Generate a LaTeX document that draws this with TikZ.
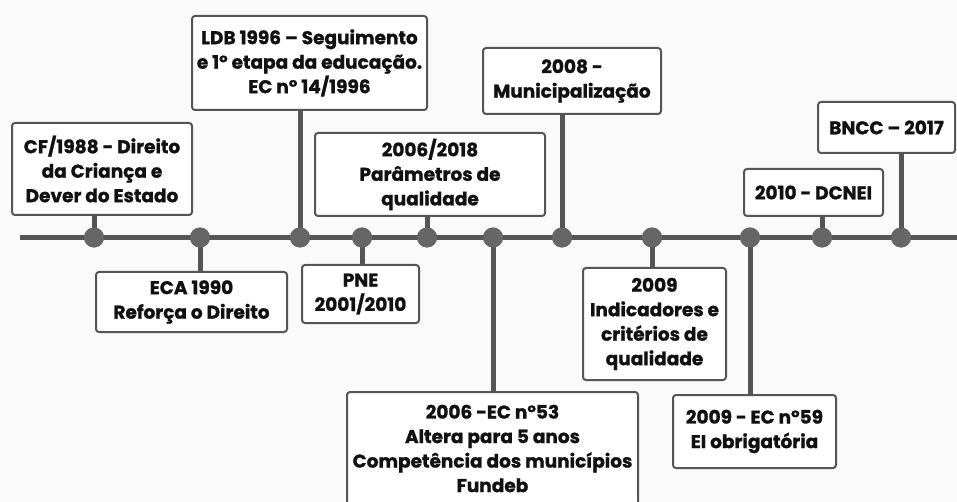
\documentclass[tikz,border=0pt]{standalone}
\usepackage{fontspec}
\setmainfont{Poppins}[BoldFeatures={FakeBold=1.2}]
\definecolor{bg}{HTML}{FAFAFA}
\definecolor{ln}{HTML}{555555}
\definecolor{dt}{HTML}{666666}
\definecolor{tx}{HTML}{111111}
\tikzset{
  tl/.style={line width=5pt, draw=ln},
  conn/.style={line width=5pt, draw=ln},
  dotnode/.style={circle, fill=dt, minimum size=20pt, inner sep=0pt},
  box/.style={draw=ln, line width=2pt, fill=white, rounded corners=3pt, inner sep=0pt,
    align=center, text=tx, font=\fontsize{18.5}{24.5}\selectfont\bfseries},
}
\begin{document}
\begin{tikzpicture}[x=1pt,y=-1pt]
\useasboundingbox (0,0) rectangle (957,502);
\fill[bg] (0,0) rectangle (957,502);
\coordinate (L) at (20,237.5);
\coordinate (R) at (957,237.5);
\draw[tl] (L) -- (R);
% boxes
\node[box, minimum width=180pt, minimum height=92pt] (b1) at (102,169) {CF/1988 - Direito\\da Criança e\\Dever do Estado};
\node[box, minimum width=191pt, minimum height=60pt] (b2) at (191.5,302) {ECA 1990\\Reforça o Direito};
\node[box, minimum width=235pt, minimum height=94pt] (b3) at (309.5,63) {LDB 1996 – Seguimento\\e 1° etapa da educação.\\EC n° 14/1996};
\node[box, minimum width=117pt, minimum height=58pt] (b4) at (360.5,294) {PNE\\2001/2010};
\node[box, minimum width=230pt, minimum height=83pt] (b5) at (430,174.5) {2006/2018\\Parâmetros de\\qualidade};
\node[box, minimum width=291pt, minimum height=113pt] (b6) at (492.5,448.5) {2006 -EC n°53\\Altera para 5 anos\\Competência dos municípios\\Fundeb};
\node[box, minimum width=178pt, minimum height=66pt] (b7) at (572,81) {2008 -\\Municipalização};
\node[box, minimum width=143pt, minimum height=112pt] (b8) at (654.5,324) {2009\\Indicadores e\\critérios de\\qualidade};
\node[box, minimum width=163pt, minimum height=73pt] (b9) at (754.5,431.5) {2009 - EC n°59\\EI obrigatória};
\node[box, minimum width=139pt, minimum height=47pt] (b10) at (813.5,192.5) {2010 - DCNEI};
\node[box, minimum width=137pt, minimum height=51pt] (b11) at (886.5,127.5) {BNCC – 2017};
% dots
\foreach \n/\x in {d1/94,d2/200,d3/300,d4/362,d5/427,d6/493,d7/562,d8/652,d9/750,d10/822,d11/901}
  \node[dotnode] (\n) at (\x,237.5) {};
% connectors
\foreach \d/\b/\a in {d1/b1/south,d2/b2/north,d3/b3/south,d4/b4/north,d5/b5/south,d6/b6/north,d7/b7/south,d8/b8/north,d9/b9/north,d10/b10/south,d11/b11/south}
  \draw[conn] (\d.center) -- (\d.center |- \b.\a);
\foreach \n in {d1,d2,d3,d4,d5,d6,d7,d8,d9,d10,d11}
  \fill[dt] (\n.center) circle (10pt);
\end{tikzpicture}
\end{document}
